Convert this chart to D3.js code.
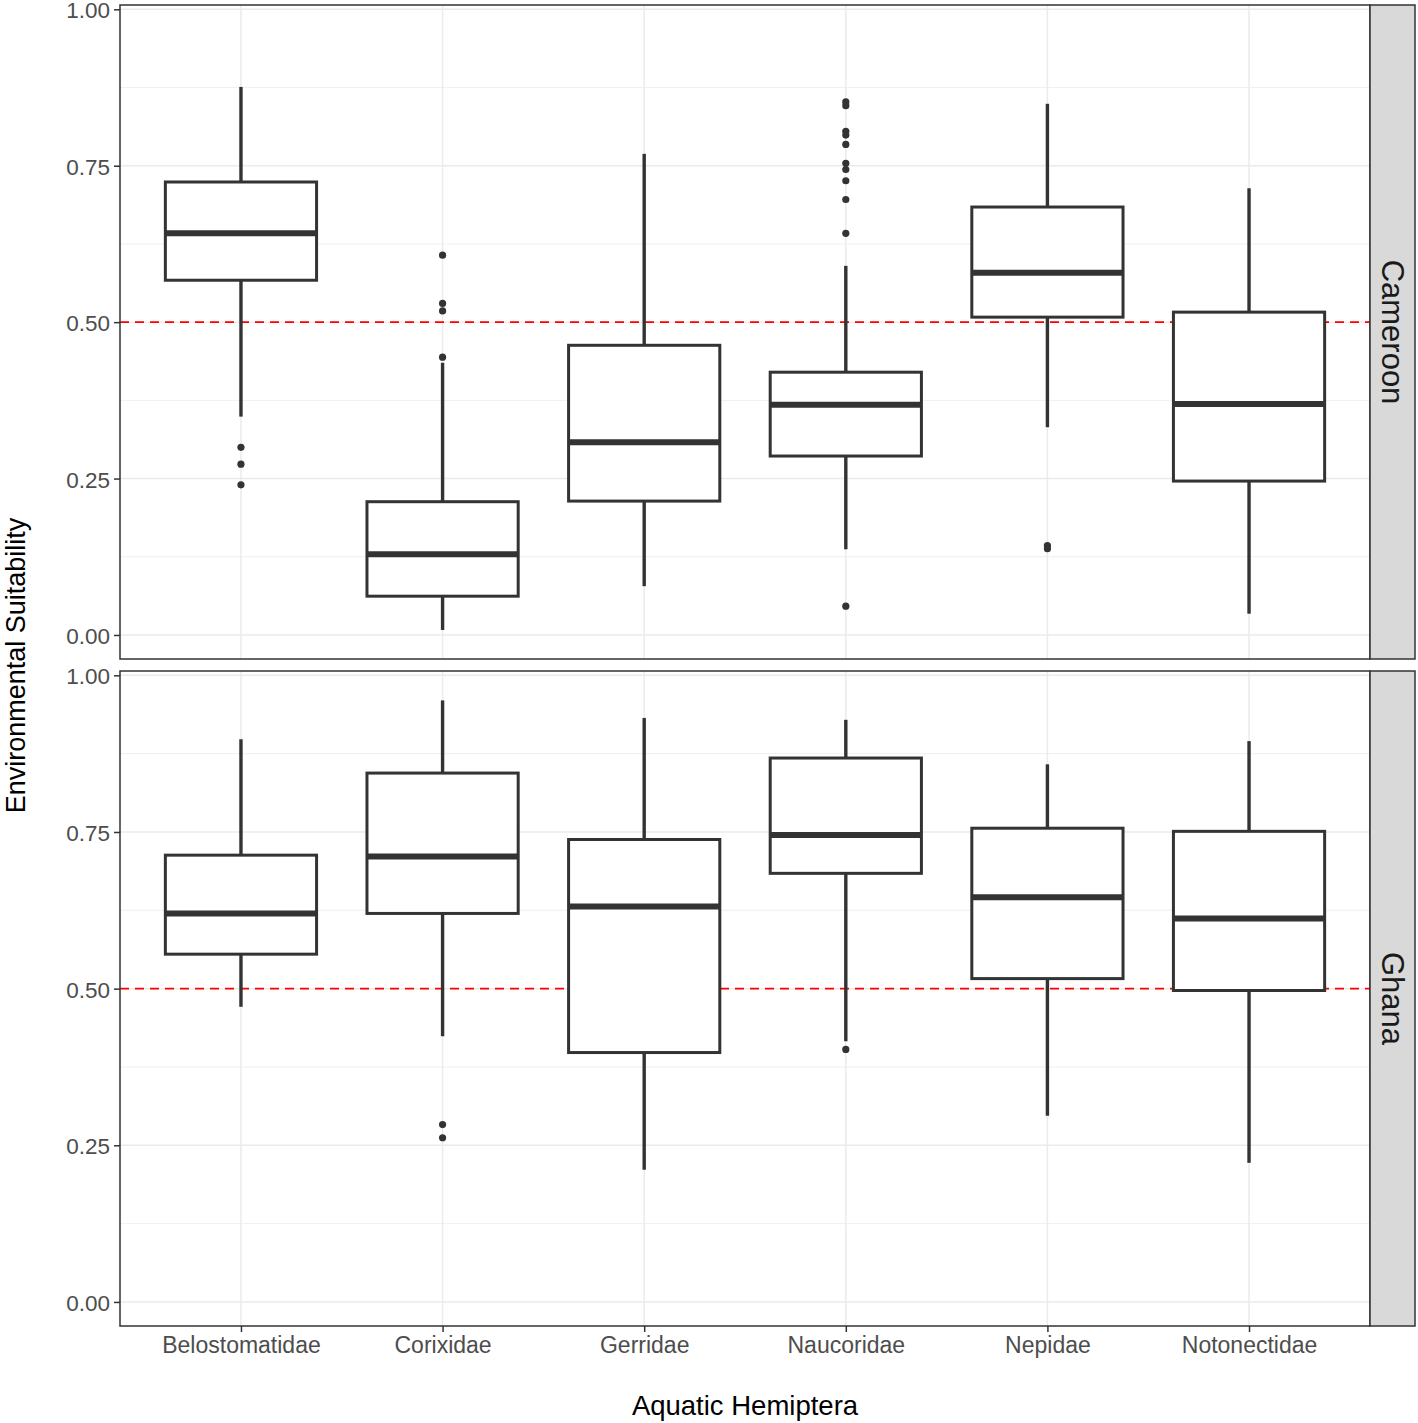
<!DOCTYPE html>
<html>
<head>
<meta charset="utf-8">
<script src="https://cdn.jsdelivr.net/npm/d3@7"></script>
<style>
  html, body { margin: 0; padding: 0; background: #fff; }
  svg { display: block; font-family: "Liberation Sans", Arial, sans-serif; }
</style>
</head>
<body>
<svg id="chart" width="1418" height="1423"></svg>
<script>
// ---- Data ----
const categories = ["Belostomatidae", "Corixidae", "Gerridae", "Naucoridae", "Nepidae", "Notonectidae"];
const panelNames = ["Cameroon", "Ghana"];
const yTicks = [0, 0.25, 0.5, 0.75, 1.0];
const yTickLabels = ["0.00", "0.25", "0.50", "0.75", "1.00"];
const yMinorTicks = [0.125, 0.375, 0.625, 0.875];
const threshold = 0.5;

// box stats per category: [lower whisker, Q1, median, Q3, upper whisker]
const cameroonStats = [
  [0.349, 0.567, 0.642, 0.724, 0.876],
  [0.008, 0.062, 0.129, 0.213, 0.435],
  [0.078, 0.214, 0.308, 0.463, 0.769],
  [0.137, 0.286, 0.368, 0.420, 0.590],
  [0.332, 0.508, 0.579, 0.684, 0.849],
  [0.034, 0.246, 0.369, 0.516, 0.714]
];
const cameroonOutliers = [
  [0.300, 0.273, 0.240],
  [0.607, 0.530, 0.518, 0.444],
  [],
  [0.852, 0.846, 0.805, 0.799, 0.784, 0.754, 0.744, 0.726, 0.696, 0.642, 0.046],
  [0.143, 0.138],
  []
];
const ghanaStats = [
  [0.471, 0.555, 0.620, 0.713, 0.898],
  [0.424, 0.620, 0.711, 0.844, 0.960],
  [0.211, 0.398, 0.631, 0.738, 0.932],
  [0.416, 0.684, 0.745, 0.868, 0.929],
  [0.297, 0.516, 0.646, 0.756, 0.858],
  [0.222, 0.497, 0.612, 0.751, 0.895]
];
const ghanaOutliers = [
  [],
  [0.283, 0.262],
  [],
  [0.403],
  [],
  []
];

// ---- Layout ----
const svg = d3.select("#chart");
const left = 120, right = 1370, stripW = 45;
const panelBoxes = [
  { top: 5, bottom: 659, stats: cameroonStats, outliers: cameroonOutliers, name: panelNames[0] },
  { top: 671, bottom: 1326, stats: ghanaStats, outliers: ghanaOutliers, name: panelNames[1] }
];
const yDomain = [-0.0384, 1.0069];
const boxWidthFrac = 0.75;
const ink = "#333333";

const x = d3.scalePoint().domain(categories).range([left, right]).padding(0.6);
const step = x.step();
const boxW = step * boxWidthFrac;

panelBoxes.forEach((p, pi) => {
  const y = d3.scaleLinear().domain(yDomain).range([p.bottom, p.top]);
  const g = svg.append("g");

  g.append("rect").attr("x", left).attr("y", p.top).attr("width", right - left).attr("height", p.bottom - p.top).attr("fill", "#fff");

  g.selectAll(".minor").data(yMinorTicks).enter().append("line")
    .attr("x1", left).attr("x2", right)
    .attr("y1", d => y(d)).attr("y2", d => y(d))
    .attr("stroke", "#EBEBEB").attr("stroke-width", 0.8);
  g.selectAll(".major").data(yTicks).enter().append("line")
    .attr("x1", left).attr("x2", right)
    .attr("y1", d => y(d)).attr("y2", d => y(d))
    .attr("stroke", "#EBEBEB").attr("stroke-width", 1.5);
  g.selectAll(".vgrid").data(categories).enter().append("line")
    .attr("x1", d => x(d)).attr("x2", d => x(d))
    .attr("y1", p.top).attr("y2", p.bottom)
    .attr("stroke", "#EBEBEB").attr("stroke-width", 1.5);

  g.append("line")
    .attr("x1", left).attr("x2", right)
    .attr("y1", y(threshold)).attr("y2", y(threshold))
    .attr("stroke", "#FF0000").attr("stroke-width", 1.6)
    .attr("stroke-dasharray", "9,6");

  categories.forEach((c, i) => {
    const [lo, q1, med, q3, hi] = p.stats[i];
    const cx = x(c);
    g.append("line").attr("x1", cx).attr("x2", cx).attr("y1", y(q3)).attr("y2", y(hi))
      .attr("stroke", ink).attr("stroke-width", 3.4);
    g.append("line").attr("x1", cx).attr("x2", cx).attr("y1", y(q1)).attr("y2", y(lo))
      .attr("stroke", ink).attr("stroke-width", 3.4);
    g.append("rect").attr("x", cx - boxW / 2).attr("y", y(q3))
      .attr("width", boxW).attr("height", y(q1) - y(q3))
      .attr("fill", "#fff").attr("stroke", ink).attr("stroke-width", 3);
    g.append("line").attr("x1", cx - boxW / 2).attr("x2", cx + boxW / 2)
      .attr("y1", y(med)).attr("y2", y(med))
      .attr("stroke", ink).attr("stroke-width", 6);
    g.selectAll(null).data(p.outliers[i]).enter().append("circle")
      .attr("cx", cx).attr("cy", d => y(d)).attr("r", 3.6).attr("fill", ink);
  });

  g.append("rect").attr("x", left).attr("y", p.top).attr("width", right - left).attr("height", p.bottom - p.top)
    .attr("fill", "none").attr("stroke", ink).attr("stroke-width", 1.5);

  const yAxis = d3.axisLeft(y).tickValues(yTicks).tickFormat((d, k) => yTickLabels[k]).tickSize(6).tickPadding(4);
  const ya = g.append("g").attr("transform", `translate(${left},0)`).call(yAxis);
  ya.select(".domain").remove();
  ya.selectAll(".tick line").attr("stroke", ink).attr("stroke-width", 1.5);
  ya.selectAll(".tick text").attr("fill", "#4D4D4D").style("font-size", "22.5px")
    .attr("dy", null).attr("y", 1).attr("dominant-baseline", "central")
    .style("font-family", "'Liberation Sans', Arial, sans-serif");

  g.append("rect").attr("x", right).attr("y", p.top).attr("width", stripW).attr("height", p.bottom - p.top)
    .attr("fill", "#D9D9D9").attr("stroke", ink).attr("stroke-width", 1.5);
  const sx = right + stripW / 2, sy = (p.top + p.bottom) / 2;
  g.append("text").attr("transform", `translate(${sx},${sy}) rotate(90)`)
    .attr("text-anchor", "middle").attr("dominant-baseline", "central")
    .attr("fill", "#1A1A1A").style("font-size", "31px").text(p.name);

  if (pi === panelBoxes.length - 1) {
    const xAxis = d3.axisBottom(x).tickSize(6).tickPadding(5);
    const xa = g.append("g").attr("transform", `translate(0,${p.bottom})`).call(xAxis);
    xa.select(".domain").remove();
    xa.selectAll(".tick line").attr("stroke", ink).attr("stroke-width", 1.5);
    xa.selectAll(".tick text").attr("fill", "#4D4D4D").style("font-size", "23px")
      .style("font-family", "'Liberation Sans', Arial, sans-serif");
  }
});

svg.append("text").attr("x", (left + right) / 2).attr("y", 1415)
  .attr("text-anchor", "middle").attr("fill", "#000").style("font-size", "27.5px")
  .text("Aquatic Hemiptera");
svg.append("text").attr("transform", `translate(25,${(5 + 1326) / 2}) rotate(-90)`)
  .attr("text-anchor", "middle").attr("fill", "#000").style("font-size", "27px")
  .text("Environmental Suitability");
</script>
</body>
</html>
